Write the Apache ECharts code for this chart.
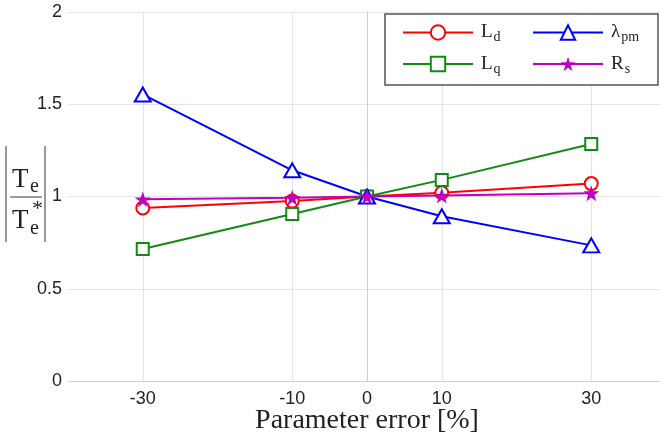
<!DOCTYPE html>
<html>
<head>
<meta charset="utf-8">
<script src="https://cdn.jsdelivr.net/npm/echarts@6/dist/echarts.min.js"></script>
<style>html,body{margin:0;padding:0;background:#fff}#c{width:660px;height:439px}</style>
</head>
<body>
<div id="c"></div>
<script>
const xValues = [-30, -10, 0, 10, 30];
const xTickLabels = [-30, -10, 0, 10, 30];
const yTicks = [0, 0.5, 1, 1.5, 2];
const seriesNames = ['Ld', 'Lq', 'λpm', 'Rs'];
const Ld = [0.938, 0.975, 1.0, 1.02, 1.07];
const Lq = [0.715, 0.905, 1.0, 1.09, 1.285];
const Lpm = [1.553, 1.142, 1.0, 0.893, 0.735];
const Rs = [0.985, 0.993, 1.0, 1.005, 1.018];

const STAR = 'path://M50,0 L61.8,35.4 L99,35.4 L69,57.3 L80.4,92.7 L50,70.8 L19.6,92.7 L31,57.3 L1,35.4 L38.2,35.4 Z';
const pairs = v => xValues.map((x, i) => [x, v[i]]);

const chart = echarts.init(document.getElementById('c'), null, {renderer: 'canvas'});
const serif = 'Liberation Serif';
const legendFmt = {
  'Ld': '{b|L}{s|d}',
  'Lq': '{b|L}{s|q}',
  'λpm': '{b|λ}{s|pm}',
  'Rs': '{b|R}{s|s}'
};
const legendText = {
  fontFamily: serif,
  color: '#222',
  padding: [0, 0, 0, 3],
  rich: {
    b: {fontFamily: serif, fontSize: 19, color: '#222'},
    s: {fontFamily: serif, fontSize: 14, color: '#222', padding: [10, 0, 0, 1]}
  }
};
const mkLegend = (data, left) => ({
  orient: 'vertical',
  left: left, top: 18,
  itemWidth: 70, itemHeight: 18, itemGap: 10,
  data: data,
  formatter: n => legendFmt[n],
  textStyle: legendText,
  z: 5
});

chart.setOption({
  animation: false,
  backgroundColor: '#fff',
  grid: {left: 68, right: -6, top: 12, bottom: 58, containLabel: false, outerBoundsMode: 'none'},
  xAxis: {
    type: 'value', min: -40, max: 40,
    axisLine: {show: true, onZero: false, lineStyle: {color: '#cfcfcf', width: 1}},
    axisTick: {show: false, customValues: xTickLabels},
    axisLabel: {customValues: xTickLabels, color: '#222', fontSize: 18, fontFamily: 'Liberation Sans', margin: 9},
    splitLine: {show: true, lineStyle: {color: '#e4e4e4', width: 1}},
    name: 'Parameter error [%]', nameLocation: 'middle', nameGap: 26, nameMoveOverlap: false,
    nameTextStyle: {fontFamily: serif, fontSize: 28, color: '#222', verticalAlign: 'top'}
  },
  yAxis: {
    type: 'value', min: 0, max: 2, interval: 0.5,
    axisLine: {show: true, lineStyle: {color: '#cfcfcf', width: 1}},
    axisTick: {show: false},
    axisLabel: {color: '#222', fontSize: 18, fontFamily: 'Liberation Sans', margin: 6},
    splitLine: {show: true, lineStyle: {color: '#e4e4e4', width: 1}}
  },
  legend: [mkLegend(['Ld', 'Lq'], 397), mkLegend(['λpm', 'Rs'], 527)],
  graphic: [
    {type: 'rect', z: 3, shape: {x: 385, y: 14, width: 273, height: 71},
     style: {fill: '#fff', stroke: '#555', lineWidth: 1.5}},
    {type: 'line', shape: {x1: 6, y1: 146, x2: 6, y2: 242}, style: {stroke: '#333', lineWidth: 1}},
    {type: 'line', shape: {x1: 45, y1: 146, x2: 45, y2: 242}, style: {stroke: '#333', lineWidth: 1}},
    {type: 'line', shape: {x1: 10, y1: 197, x2: 42, y2: 197}, style: {stroke: '#333', lineWidth: 1}},
    {type: 'text', left: 12, top: 166, style: {text: 'T', font: '27px "Liberation Serif"', fill: '#222'}},
    {type: 'text', left: 30, top: 177, style: {text: 'e', font: '20px "Liberation Serif"', fill: '#222'}},
    {type: 'text', left: 12, top: 207, style: {text: 'T', font: '27px "Liberation Serif"', fill: '#222'}},
    {type: 'text', left: 30, top: 219, style: {text: 'e', font: '20px "Liberation Serif"', fill: '#222'}},
    {type: 'text', left: 32, top: 198, style: {text: '*', font: '22px "Liberation Serif"', fill: '#222'}}
  ],
  series: [
    {name: 'Ld', type: 'line', data: pairs(Ld), symbol: 'emptyCircle', symbolSize: 13,
     color: '#ff0000', lineStyle: {width: 2, color: '#ff0000'}, itemStyle: {color: '#ff0000', borderWidth: 1.8}},
    {name: 'Lq', type: 'line', data: pairs(Lq), symbol: 'emptyRect', symbolSize: 12,
     color: '#138a13', lineStyle: {width: 2, color: '#138a13'}, itemStyle: {color: '#138a13', borderWidth: 1.8}},
    {name: 'λpm', type: 'line', data: pairs(Lpm), symbol: 'emptyTriangle', symbolSize: [16, 14],
     color: '#0000ff', lineStyle: {width: 2, color: '#0000ff'}, itemStyle: {color: '#0000ff', borderWidth: 1.8}},
    {name: 'Rs', type: 'line', data: pairs(Rs), symbol: STAR, symbolSize: 16,
     color: '#c000c0', lineStyle: {width: 2, color: '#c000c0'}, itemStyle: {color: '#c000c0'}}
  ]
});
</script>
</body>
</html>
